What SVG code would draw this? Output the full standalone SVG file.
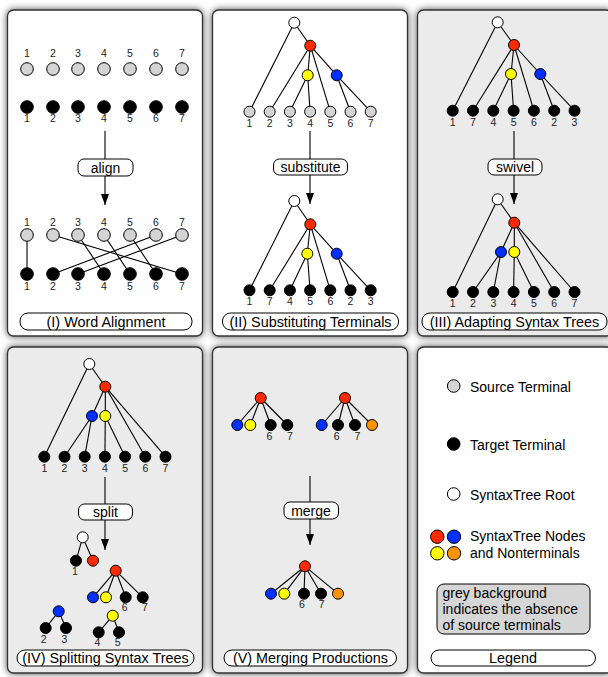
<svg xmlns="http://www.w3.org/2000/svg" width="608" height="677" viewBox="0 0 608 677">
<defs>
<filter id="sh" x="-10%" y="-10%" width="120%" height="120%">
<feDropShadow dx="0" dy="0" stdDeviation="3.5" flood-color="#000" flood-opacity="0.7"/>
</filter>
<marker id="ah" viewBox="0 0 11 8" refX="11" refY="4" markerWidth="11" markerHeight="8" orient="auto" markerUnits="userSpaceOnUse">
<path d="M0,0 L11,4 L0,8 z" fill="#000"/>
</marker>
</defs>
<style>
.panel{stroke:#333;stroke-width:1.3}
.w{fill:#fff}.g{fill:#ebebeb}
.c{stroke:#000;stroke-width:1}
.src{fill:#d4d4d4}.tgt{fill:#000}.root{fill:#fff}
.red{fill:#ff2a00}.blue{fill:#0030ff}.yel{fill:#ffff00}.org{fill:#ff9300}
.e line,line.e{stroke:#000;stroke-width:1.1}
.lbl{font-family:"Liberation Sans",Arial,sans-serif;font-size:14px;text-anchor:middle;fill:#000}
.num{font-family:"Liberation Sans",Arial,sans-serif;font-size:10.5px;text-anchor:middle;fill:#222}
.leg{font-family:"Liberation Sans",Arial,sans-serif;font-size:14px;fill:#000}
.box{fill:#fff;stroke:#000;stroke-width:1}
.ttl{font-family:"Liberation Sans",Arial,sans-serif;font-size:14.4px;text-anchor:middle;fill:#000}
</style>
<rect width="608" height="677" fill="#fff"/>

<!-- Panels -->
<g id="panels" filter="url(#sh)">
<rect class="panel w" x="7.5" y="10" width="195" height="326" rx="6"/>
<rect class="panel w" x="212.5" y="10" width="195" height="326" rx="6"/>
<rect class="panel g" x="417.5" y="10" width="195" height="326" rx="6"/>
<rect class="panel g" x="7.5" y="347" width="195" height="326" rx="6"/>
<rect class="panel g" x="212.5" y="347" width="195" height="326" rx="6"/>
<rect class="panel w" x="417.5" y="347" width="195" height="326" rx="6"/>
</g>

<!-- Connectors -->
<g id="connectors" class="e">
<!-- Panel I alignment -->
<line x1="27" y1="235" x2="27" y2="274"/>
<line x1="53" y1="235" x2="182" y2="274"/>
<line x1="78" y1="235" x2="104" y2="274"/>
<line x1="104" y1="235" x2="130" y2="274"/>
<line x1="130" y1="235" x2="156" y2="274"/>
<line x1="156" y1="235" x2="53" y2="274"/>
<line x1="182" y1="235" x2="78" y2="274"/>
<!-- process arrows -->
<line x1="105" y1="131" x2="105" y2="159"/>
<line x1="105" y1="176" x2="105" y2="205" marker-end="url(#ah)"/>
<line x1="310" y1="131" x2="310" y2="159"/>
<line x1="310" y1="175" x2="310" y2="204" marker-end="url(#ah)"/>
<line x1="514" y1="131" x2="514" y2="159"/>
<line x1="514" y1="175" x2="514" y2="204" marker-end="url(#ah)"/>
<line x1="105" y1="477" x2="105" y2="504"/>
<line x1="105" y1="520" x2="105" y2="550" marker-end="url(#ah)"/>
<line x1="310" y1="476" x2="310" y2="502"/>
<line x1="310" y1="519" x2="310" y2="545" marker-end="url(#ah)"/>
<!-- Panel II top tree -->
<line x1="294.3" y1="22.7" x2="249.5" y2="111.7"/>
<line x1="294.3" y1="22.7" x2="310.3" y2="45.7"/>
<line x1="310.3" y1="45.7" x2="269.7" y2="111.7"/>
<line x1="310.3" y1="45.7" x2="307.7" y2="75.3"/>
<line x1="310.3" y1="45.7" x2="330.3" y2="111.7"/>
<line x1="310.3" y1="45.7" x2="336.7" y2="75.3"/>
<line x1="307.7" y1="75.3" x2="289.9" y2="111.7"/>
<line x1="307.7" y1="75.3" x2="310.1" y2="111.7"/>
<line x1="336.7" y1="75.3" x2="350.5" y2="111.7"/>
<line x1="336.7" y1="75.3" x2="370.7" y2="111.7"/>
<!-- Panel II bottom tree -->
<line x1="294.3" y1="201" x2="249.5" y2="290.3"/>
<line x1="294.3" y1="201" x2="310.3" y2="224.3"/>
<line x1="310.3" y1="224.3" x2="269.7" y2="290.3"/>
<line x1="310.3" y1="224.3" x2="307.3" y2="253.7"/>
<line x1="310.3" y1="224.3" x2="330.3" y2="290.3"/>
<line x1="310.3" y1="224.3" x2="336.7" y2="253.7"/>
<line x1="307.3" y1="253.7" x2="289.9" y2="290.3"/>
<line x1="307.3" y1="253.7" x2="310.1" y2="290.3"/>
<line x1="336.7" y1="253.7" x2="350.5" y2="290.3"/>
<line x1="336.7" y1="253.7" x2="370.7" y2="290.3"/>
<!-- Panel III top tree -->
<line x1="497.7" y1="22.3" x2="452.7" y2="110.7"/>
<line x1="497.7" y1="22.3" x2="514" y2="45"/>
<line x1="514" y1="45" x2="473" y2="110.7"/>
<line x1="514" y1="45" x2="511" y2="74"/>
<line x1="514" y1="45" x2="533.9" y2="110.7"/>
<line x1="514" y1="45" x2="540.3" y2="74"/>
<line x1="511" y1="74" x2="493.3" y2="110.7"/>
<line x1="511" y1="74" x2="513.6" y2="110.7"/>
<line x1="540.3" y1="74" x2="554.2" y2="110.7"/>
<line x1="540.3" y1="74" x2="574.5" y2="110.7"/>
<!-- Panel III bottom tree -->
<line x1="497.7" y1="199.3" x2="452.7" y2="292"/>
<line x1="497.7" y1="199.3" x2="514.3" y2="222.7"/>
<line x1="514.3" y1="222.7" x2="501" y2="252"/>
<line x1="514.3" y1="222.7" x2="514.3" y2="252"/>
<line x1="514.3" y1="222.7" x2="554.2" y2="292"/>
<line x1="514.3" y1="222.7" x2="574.5" y2="292"/>
<line x1="501" y1="252" x2="473" y2="292"/>
<line x1="501" y1="252" x2="493.3" y2="292"/>
<line x1="514.3" y1="252" x2="513.6" y2="292"/>
<line x1="514.3" y1="252" x2="533.9" y2="292"/>
<!-- Panel IV top tree -->
<line x1="89.3" y1="364" x2="44.3" y2="456.7"/>
<line x1="89.3" y1="364" x2="105.3" y2="386.7"/>
<line x1="105.3" y1="386.7" x2="92" y2="416"/>
<line x1="105.3" y1="386.7" x2="105.3" y2="416"/>
<line x1="105.3" y1="386.7" x2="145.3" y2="456.7"/>
<line x1="105.3" y1="386.7" x2="165.5" y2="456.7"/>
<line x1="92" y1="416" x2="64.5" y2="456.7"/>
<line x1="92" y1="416" x2="84.7" y2="456.7"/>
<line x1="105.3" y1="416" x2="104.9" y2="456.7"/>
<line x1="105.3" y1="416" x2="125.1" y2="456.7"/>
<!-- Panel IV split pieces -->
<line x1="82.7" y1="537.3" x2="76" y2="560.7"/>
<line x1="82.7" y1="537.3" x2="93" y2="560.7"/>
<line x1="115.7" y1="570.7" x2="93" y2="597.3"/>
<line x1="115.7" y1="570.7" x2="106" y2="597.3"/>
<line x1="115.7" y1="570.7" x2="125.7" y2="597.3"/>
<line x1="115.7" y1="570.7" x2="142.7" y2="597.3"/>
<line x1="58.7" y1="611.3" x2="45.7" y2="628"/>
<line x1="58.7" y1="611.3" x2="66" y2="628"/>
<line x1="112.7" y1="615.7" x2="98.7" y2="632.3"/>
<line x1="112.7" y1="615.7" x2="119" y2="632.3"/>
<!-- Panel V -->
<line x1="260.7" y1="398" x2="237.3" y2="425"/>
<line x1="260.7" y1="398" x2="250.3" y2="425"/>
<line x1="260.7" y1="398" x2="270.7" y2="425"/>
<line x1="260.7" y1="398" x2="287.3" y2="425"/>
<line x1="345" y1="398" x2="321.7" y2="425"/>
<line x1="345" y1="398" x2="338" y2="425"/>
<line x1="345" y1="398" x2="355" y2="425"/>
<line x1="345" y1="398" x2="372" y2="425"/>
<line x1="305" y1="566.3" x2="271" y2="593.7"/>
<line x1="305" y1="566.3" x2="284.3" y2="593.7"/>
<line x1="305" y1="566.3" x2="304" y2="593.7"/>
<line x1="305" y1="566.3" x2="321" y2="593.7"/>
<line x1="305" y1="566.3" x2="338" y2="593.7"/>
</g>

<!-- Panel I nodes -->
<g id="panel-I">
<g class="num">
<text x="27" y="57">1</text><text x="53" y="57">2</text><text x="78" y="57">3</text><text x="104" y="57">4</text><text x="130" y="57">5</text><text x="156" y="57">6</text><text x="182" y="57">7</text>
<text x="27" y="122">1</text><text x="53" y="122">2</text><text x="78" y="122">3</text><text x="104" y="122">4</text><text x="130" y="122">5</text><text x="156" y="122">6</text><text x="182" y="122">7</text>
<text x="27" y="226">1</text><text x="53" y="226">2</text><text x="78" y="226">3</text><text x="104" y="226">4</text><text x="130" y="226">5</text><text x="156" y="226">6</text><text x="182" y="226">7</text>
<text x="27" y="290">1</text><text x="53" y="290">2</text><text x="78" y="290">3</text><text x="104" y="290">4</text><text x="130" y="290">5</text><text x="156" y="290">6</text><text x="182" y="290">7</text>
</g>
<g class="c src">
<circle cx="27" cy="69" r="6.3"/><circle cx="53" cy="69" r="6.3"/><circle cx="78" cy="69" r="6.3"/><circle cx="104" cy="69" r="6.3"/><circle cx="130" cy="69" r="6.3"/><circle cx="156" cy="69" r="6.3"/><circle cx="182" cy="69" r="6.3"/>
<circle cx="27" cy="235" r="6.3"/><circle cx="53" cy="235" r="6.3"/><circle cx="78" cy="235" r="6.3"/><circle cx="104" cy="235" r="6.3"/><circle cx="130" cy="235" r="6.3"/><circle cx="156" cy="235" r="6.3"/><circle cx="182" cy="235" r="6.3"/>
</g>
<g class="c tgt">
<circle cx="27" cy="107" r="6.3"/><circle cx="53" cy="107" r="6.3"/><circle cx="78" cy="107" r="6.3"/><circle cx="104" cy="107" r="6.3"/><circle cx="130" cy="107" r="6.3"/><circle cx="156" cy="107" r="6.3"/><circle cx="182" cy="107" r="6.3"/>
<circle cx="27" cy="274" r="6.3"/><circle cx="53" cy="274" r="6.3"/><circle cx="78" cy="274" r="6.3"/><circle cx="104" cy="274" r="6.3"/><circle cx="130" cy="274" r="6.3"/><circle cx="156" cy="274" r="6.3"/><circle cx="182" cy="274" r="6.3"/>
</g>
<rect class="box" x="78" y="159" width="55" height="17" rx="6"/>
<text class="lbl" x="105.5" y="172.5">align</text>
<rect class="box" x="20" y="313" width="172" height="17" rx="8"/>
<text class="ttl" x="106" y="326.5">(I) Word Alignment</text>
</g>

<!-- Panel II nodes -->
<g id="panel-II">
<circle class="c root" cx="294.3" cy="22.7" r="5.5"/>
<circle class="c red" cx="310.3" cy="45.7" r="5.5"/>
<circle class="c yel" cx="307.7" cy="75.3" r="5.5"/>
<circle class="c blue" cx="336.7" cy="75.3" r="5.5"/>
<g class="c src">
<circle cx="249.5" cy="111.7" r="5.5"/><circle cx="269.7" cy="111.7" r="5.5"/><circle cx="289.9" cy="111.7" r="5.5"/><circle cx="310.1" cy="111.7" r="5.5"/><circle cx="330.3" cy="111.7" r="5.5"/><circle cx="350.5" cy="111.7" r="5.5"/><circle cx="370.7" cy="111.7" r="5.5"/>
</g>
<g class="num">
<text x="249.5" y="127">1</text><text x="269.7" y="127">2</text><text x="289.9" y="127">3</text><text x="310.1" y="127">4</text><text x="330.3" y="127">5</text><text x="350.5" y="127">6</text><text x="370.7" y="127">7</text>
</g>
<rect class="box" x="273.5" y="159" width="74" height="16" rx="6"/>
<text class="lbl" x="310.5" y="172">substitute</text>
<circle class="c root" cx="294.3" cy="201" r="5.5"/>
<circle class="c red" cx="310.3" cy="224.3" r="5.5"/>
<circle class="c yel" cx="307.3" cy="253.7" r="5.5"/>
<circle class="c blue" cx="336.7" cy="253.7" r="5.5"/>
<g class="c tgt">
<circle cx="249.5" cy="290.3" r="5.5"/><circle cx="269.7" cy="290.3" r="5.5"/><circle cx="289.9" cy="290.3" r="5.5"/><circle cx="310.1" cy="290.3" r="5.5"/><circle cx="330.3" cy="290.3" r="5.5"/><circle cx="350.5" cy="290.3" r="5.5"/><circle cx="370.7" cy="290.3" r="5.5"/>
</g>
<g class="num">
<text x="249.5" y="305">1</text><text x="269.7" y="305">7</text><text x="289.9" y="305">4</text><text x="310.1" y="305">5</text><text x="330.3" y="305">6</text><text x="350.5" y="305">2</text><text x="370.7" y="305">3</text>
</g>
<rect class="box" x="222.5" y="313" width="176" height="17" rx="8"/>
<text class="ttl" x="310.5" y="326.5">(II) Substituting Terminals</text>
</g>

<!-- Panel III nodes -->
<g id="panel-III">
<circle class="c root" cx="497.7" cy="22.3" r="5.5"/>
<circle class="c red" cx="514" cy="45" r="5.5"/>
<circle class="c yel" cx="511" cy="74" r="5.5"/>
<circle class="c blue" cx="540.3" cy="74" r="5.5"/>
<g class="c tgt">
<circle cx="452.7" cy="110.7" r="5.5"/><circle cx="473" cy="110.7" r="5.5"/><circle cx="493.3" cy="110.7" r="5.5"/><circle cx="513.6" cy="110.7" r="5.5"/><circle cx="533.9" cy="110.7" r="5.5"/><circle cx="554.2" cy="110.7" r="5.5"/><circle cx="574.5" cy="110.7" r="5.5"/>
</g>
<g class="num">
<text x="452.7" y="126">1</text><text x="473" y="126">7</text><text x="493.3" y="126">4</text><text x="513.6" y="126">5</text><text x="533.9" y="126">6</text><text x="554.2" y="126">2</text><text x="574.5" y="126">3</text>
</g>
<rect class="box" x="488" y="159" width="54" height="16" rx="6"/>
<text class="lbl" x="515" y="172">swivel</text>
<circle class="c root" cx="497.7" cy="199.3" r="5.5"/>
<circle class="c red" cx="514.3" cy="222.7" r="5.5"/>
<circle class="c blue" cx="501" cy="252" r="5.5"/>
<circle class="c yel" cx="514.3" cy="252" r="5.5"/>
<g class="c tgt">
<circle cx="452.7" cy="292" r="5.5"/><circle cx="473" cy="292" r="5.5"/><circle cx="493.3" cy="292" r="5.5"/><circle cx="513.6" cy="292" r="5.5"/><circle cx="533.9" cy="292" r="5.5"/><circle cx="554.2" cy="292" r="5.5"/><circle cx="574.5" cy="292" r="5.5"/>
</g>
<g class="num">
<text x="452.7" y="306.5">1</text><text x="473" y="306.5">2</text><text x="493.3" y="306.5">3</text><text x="513.6" y="306.5">4</text><text x="533.9" y="306.5">5</text><text x="554.2" y="306.5">6</text><text x="574.5" y="306.5">7</text>
</g>
<rect class="box" x="422" y="313" width="185" height="17" rx="8"/>
<text class="ttl" x="514.5" y="326.5">(III) Adapting Syntax Trees</text>
</g>

<!-- Panel IV nodes -->
<g id="panel-IV">
<circle class="c root" cx="89.3" cy="364" r="5.5"/>
<circle class="c red" cx="105.3" cy="386.7" r="5.5"/>
<circle class="c blue" cx="92" cy="416" r="5.5"/>
<circle class="c yel" cx="105.3" cy="416" r="5.5"/>
<g class="c tgt">
<circle cx="44.3" cy="456.7" r="5.5"/><circle cx="64.5" cy="456.7" r="5.5"/><circle cx="84.7" cy="456.7" r="5.5"/><circle cx="104.9" cy="456.7" r="5.5"/><circle cx="125.1" cy="456.7" r="5.5"/><circle cx="145.3" cy="456.7" r="5.5"/><circle cx="165.5" cy="456.7" r="5.5"/>
</g>
<g class="num">
<text x="44.3" y="472">1</text><text x="64.5" y="472">2</text><text x="84.7" y="472">3</text><text x="104.9" y="472">4</text><text x="125.1" y="472">5</text><text x="145.3" y="472">6</text><text x="165.5" y="472">7</text>
</g>
<rect class="box" x="78.5" y="504" width="54" height="16" rx="6"/>
<text class="lbl" x="105.5" y="517">split</text>
<circle class="c root" cx="82.7" cy="537.3" r="5.5"/>
<circle class="c tgt" cx="76" cy="560.7" r="5.5"/>
<circle class="c red" cx="93" cy="560.7" r="5.5"/>
<circle class="c red" cx="115.7" cy="570.7" r="5.5"/>
<circle class="c blue" cx="93" cy="597.3" r="5.5"/>
<circle class="c yel" cx="106" cy="597.3" r="5.5"/>
<circle class="c tgt" cx="125.7" cy="597.3" r="5.5"/>
<circle class="c tgt" cx="142.7" cy="597.3" r="5.5"/>
<circle class="c blue" cx="58.7" cy="611.3" r="5.5"/>
<circle class="c tgt" cx="45.7" cy="628" r="5.5"/>
<circle class="c tgt" cx="66" cy="628" r="5.5"/>
<circle class="c yel" cx="112.7" cy="615.7" r="5.5"/>
<circle class="c tgt" cx="98.7" cy="632.3" r="5.5"/>
<circle class="c tgt" cx="119" cy="632.3" r="5.5"/>
<g class="num">
<text x="75" y="575">1</text><text x="124.7" y="611">6</text><text x="145" y="611">7</text>
<text x="43.7" y="642.5">2</text><text x="64.3" y="642.5">3</text><text x="97.3" y="646">4</text><text x="117.7" y="646">5</text>
</g>
<rect class="box" x="17" y="650" width="177" height="16" rx="8"/>
<text class="ttl" x="105.5" y="663">(IV) Splitting Syntax Trees</text>
</g>

<!-- Panel V nodes -->
<g id="panel-V">
<circle class="c red" cx="260.7" cy="398" r="5.5"/>
<circle class="c blue" cx="237.3" cy="425" r="5.5"/>
<circle class="c yel" cx="250.3" cy="425" r="5.5"/>
<circle class="c tgt" cx="270.7" cy="425" r="5.5"/>
<circle class="c tgt" cx="287.3" cy="425" r="5.5"/>
<circle class="c red" cx="345" cy="398" r="5.5"/>
<circle class="c blue" cx="321.7" cy="425" r="5.5"/>
<circle class="c tgt" cx="338" cy="425" r="5.5"/>
<circle class="c tgt" cx="355" cy="425" r="5.5"/>
<circle class="c org" cx="372" cy="425" r="5.5"/>
<g class="num">
<text x="269.3" y="440">6</text><text x="290" y="440">7</text><text x="336.7" y="440">6</text><text x="357.3" y="440">7</text>
</g>
<rect class="box" x="284" y="502" width="54.5" height="17" rx="6"/>
<text class="lbl" x="311" y="515.5">merge</text>
<circle class="c red" cx="305" cy="566.3" r="5.5"/>
<circle class="c blue" cx="271" cy="593.7" r="5.5"/>
<circle class="c yel" cx="284.3" cy="593.7" r="5.5"/>
<circle class="c tgt" cx="304" cy="593.7" r="5.5"/>
<circle class="c tgt" cx="321" cy="593.7" r="5.5"/>
<circle class="c org" cx="338" cy="593.7" r="5.5"/>
<g class="num">
<text x="302" y="608">6</text><text x="321.7" y="608">7</text>
</g>
<rect class="box" x="224" y="650" width="172.5" height="16" rx="8"/>
<text class="ttl" x="310.5" y="663">(V) Merging Productions</text>
</g>

<!-- Legend -->
<g id="legend">
<circle class="c src" cx="453.7" cy="386" r="6.3"/>
<text class="leg" x="470" y="391.5">Source Terminal</text>
<circle class="c tgt" cx="453.7" cy="444" r="6.3"/>
<text class="leg" x="470" y="449.5">Target Terminal</text>
<circle class="c root" cx="453.7" cy="494" r="6.3"/>
<text class="leg" x="470" y="499.5">SyntaxTree Root</text>
<circle class="c red" cx="437.3" cy="536.7" r="6.7"/>
<circle class="c blue" cx="454" cy="536.7" r="6.7"/>
<circle class="c yel" cx="437.3" cy="553.3" r="6.7"/>
<circle class="c org" cx="454" cy="553.3" r="6.7"/>
<text class="leg" x="470" y="541">SyntaxTree Nodes</text>
<text class="leg" x="470" y="557.5">and Nonterminals</text>
<rect x="437" y="584" width="153" height="50" rx="7" fill="#d6d6d6" stroke="#000" stroke-width="1"/>
<text class="leg" x="442.5" y="597.5">grey background</text>
<text class="leg" x="442.5" y="613.5">indicates the absence</text>
<text class="leg" x="442.5" y="629.5">of source terminals</text>
<rect class="box" x="431" y="650" width="164.5" height="16" rx="8"/>
<text class="ttl" x="513" y="663">Legend</text>
</g>
</svg>
